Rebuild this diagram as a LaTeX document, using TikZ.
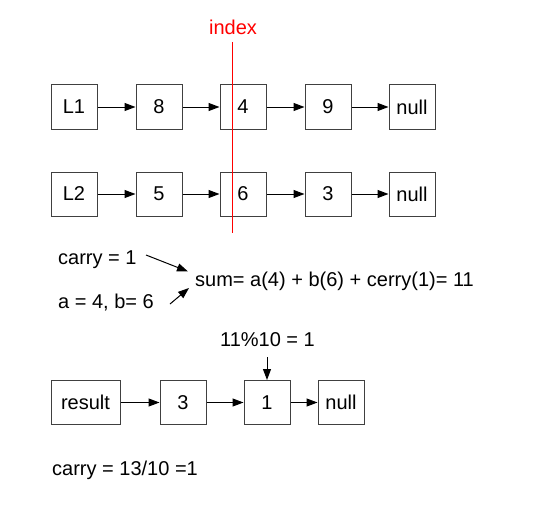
\documentclass[tikz,border=0pt]{standalone}
\usepackage{fontspec}
\setmainfont{Liberation Sans}
\usetikzlibrary{arrows.meta}
\begin{document}
\begin{tikzpicture}[x=1pt,y=-1pt,
  box/.style={draw=black!75,line width=1pt,minimum width=46pt,minimum height=44pt,inner sep=0pt,font=\fontsize{20}{23}\selectfont},
  lbl/.style={inner sep=0pt,font=\fontsize{20}{23}\selectfont},
  arr/.style={draw=black,line width=1pt,-{Triangle[length=11pt,width=8pt]}}]
\useasboundingbox (0,0) rectangle (553,508);
% row 1
\node[box] (l1) at (74,107) {L1};
\node[box] (a8) at (159,107) {8};
\node[box] (a4) at (243,107) {4};
\node[box] (a9) at (328,107) {9};
\node[box] (an) at (412,107) {null};
% row 2
\node[box] (l2) at (74,194) {L2};
\node[box] (b5) at (159,194) {5};
\node[box] (b6) at (243,194) {6};
\node[box] (b3) at (328,194) {3};
\node[box] (bn) at (412,194) {null};
\foreach \a/\b in {l1/a8,a8/a4,a4/a9,a9/an,l2/b5,b5/b6,b6/b3,b3/bn}
  \draw[arr] (\a) -- (\b);
% index line
\node[lbl,text=red] (idx) at (233,27) {index};
\coordinate (ltop) at (232.7,42);
\coordinate (lbot) at (232.7,233);
\draw[red,line width=1pt] (ltop) -- (lbot);
% sum texts
\node[lbl,anchor=west] (carry) at (58,260) {carry = 1};
\node[lbl,anchor=west] (ab) at (58,303) {a = 4, b= 6};
\node[lbl,anchor=west] (sum) at (195,281) {sum= a(4) + b(6) + cerry(1)= 11};
\coordinate (c1) at (146,255);
\coordinate (c2) at (188,271.5);
\coordinate (d1) at (170,304);
\coordinate (d2) at (189,288);
\draw[arr] (c1) -- (c2);
\draw[arr] (d1) -- (d2);
\node[lbl] (mod) at (267.5,340) {11\%10 = 1};
% row 3
\node[box,minimum width=69pt] (res) at (85.5,402.5) {result};
\node[box] (r3) at (183,402.5) {3};
\node[box] (r1) at (267,402.5) {1};
\node[box] (rn) at (341,402.5) {null};
\draw[arr] (res) -- (r3);
\draw[arr] (r3) -- (r1);
\draw[arr] (r1) -- (rn);
\coordinate (m1) at (267,357);
\draw[arr] (m1) -- (r1);
\node[lbl,anchor=west] (carry2) at (52,470) {carry = 13/10 =1};
\end{tikzpicture}
\end{document}
